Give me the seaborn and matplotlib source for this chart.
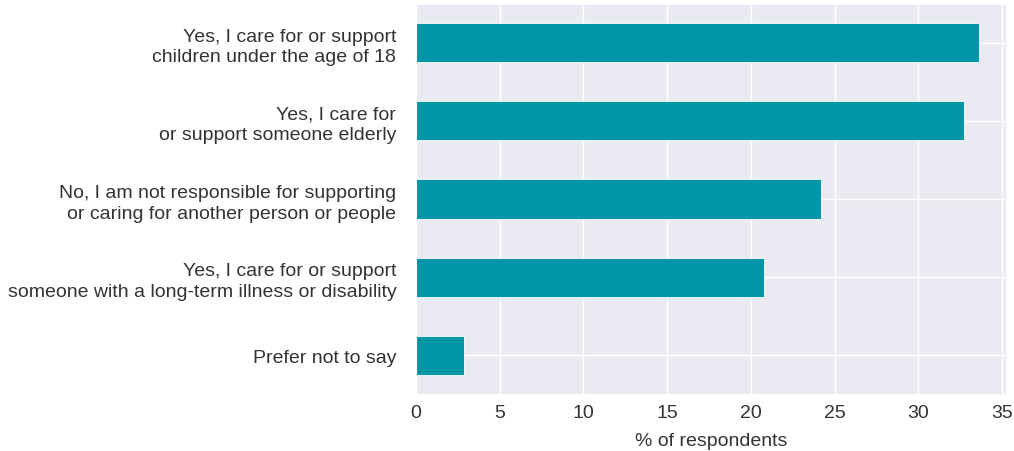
import matplotlib
matplotlib.use("Agg")
import matplotlib.pyplot as plt
import seaborn as sns
import pandas as pd

categories = [
    "Yes, I care for or support\nchildren under the age of 18",
    "Yes, I care for\nor support someone elderly",
    "No, I am not responsible for supporting\nor caring for another person or people",
    "Yes, I care for or support\nsomeone with a long-term illness or disability",
    "Prefer not to say",
]
values = [33.6, 32.7, 24.2, 20.8, 2.9]

df = pd.DataFrame({"answer": categories, "pct": values})

sns.set_theme(style="darkgrid")
plt.rcParams["font.family"] = ["Liberation Sans", "DejaVu Sans"]

fig, ax = plt.subplots(figsize=(10.14, 4.52), dpi=100)
sns.barplot(data=df, y="answer", x="pct", color="#0096A8", saturation=1,
            width=0.5, edgecolor="white", linewidth=0.6, ax=ax)
ax.yaxis.grid(True)
ax.set_axisbelow(True)
ax.set_ylabel("")
ax.set_xlabel("% of respondents", fontsize=14, labelpad=8)
ax.tick_params(axis="both", labelsize=14)
ax.tick_params(axis="y", pad=8)
ax.tick_params(axis="x", pad=1)
ax.set_xticks(range(0, 40, 5))
for lab in ax.get_yticklabels():
    lab.set_color("#333333")
    lab.set_linespacing(1.28)
for lab in ax.get_xticklabels():
    lab.set_color("#333333")
ax.xaxis.label.set_color("#333333")

fig.subplots_adjust(left=0.41, right=0.993, top=0.99, bottom=0.125)
fig.savefig("out.png", dpi=100)
